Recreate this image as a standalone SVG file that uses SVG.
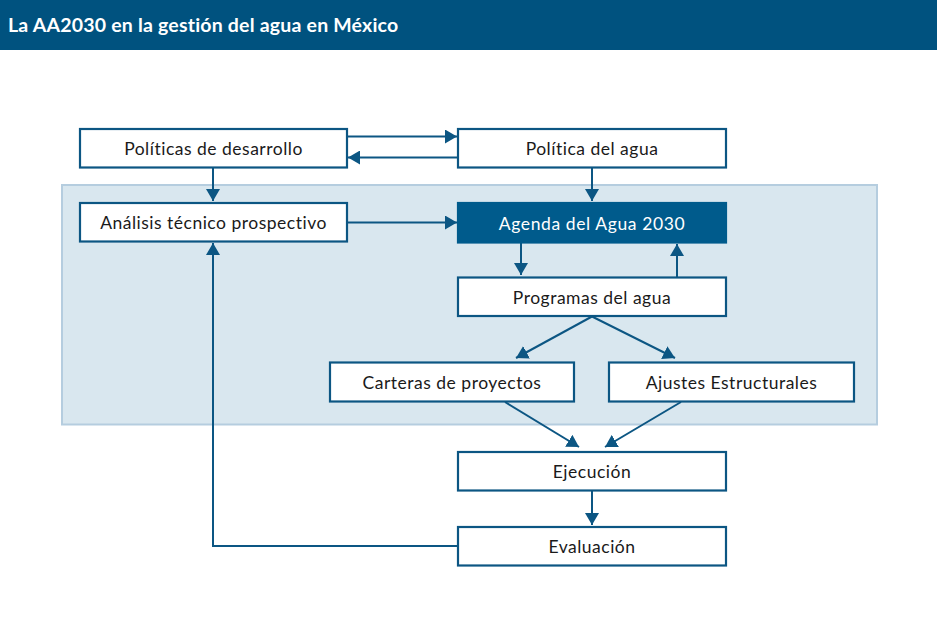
<svg xmlns="http://www.w3.org/2000/svg" width="937" height="632" viewBox="0 0 937 632">
<defs>
<style>
.box{fill:#ffffff;stroke:#0c5683;stroke-width:2.2}
.dark{fill:#005b8c;stroke:#005b8c;stroke-width:2.2}
.lbl{font-family:Lato,"Open Sans","Liberation Sans",sans-serif;font-size:17.5px;letter-spacing:0.5px;fill:#1a1a1a;text-anchor:middle}
.lblw{font-family:Lato,"Open Sans","Liberation Sans",sans-serif;font-size:17.5px;letter-spacing:0.6px;fill:#ffffff;text-anchor:middle}
.ln{fill:none;stroke:#0c5683;stroke-width:2}
</style>
<marker id="a" viewBox="0 0 12 14" refX="12" refY="7" markerWidth="12" markerHeight="14" markerUnits="userSpaceOnUse" orient="auto">
<path d="M0,0 L12,7 L0,14 Z" fill="#0c5683"/>
</marker>
</defs>
<g id="header">
<rect x="0" y="0" width="937" height="50" fill="#00527f"/>
<text x="8" y="32" font-family="Lato,'Open Sans','Liberation Sans',sans-serif" font-size="19.5" letter-spacing="0.2" font-weight="bold" fill="#ffffff">La AA2030 en la gestión del agua en México</text>
</g>
<g id="panel">
<rect x="62" y="185" width="815" height="239.5" fill="#d9e7ef" stroke="#b5cddf" stroke-width="2"/>
</g>
<g id="connectors">
<line class="ln" x1="347" y1="136.5" x2="457" y2="136.5" marker-end="url(#a)"/>
<line class="ln" x1="458" y1="157.5" x2="348" y2="157.5" marker-end="url(#a)"/>
<line class="ln" x1="213" y1="168" x2="213" y2="201" marker-end="url(#a)"/>
<line class="ln" x1="592" y1="168" x2="592" y2="201" marker-end="url(#a)"/>
<line class="ln" x1="347" y1="222.5" x2="457" y2="222.5" marker-end="url(#a)"/>
<line class="ln" x1="521" y1="243" x2="521" y2="275" marker-end="url(#a)"/>
<line class="ln" x1="677" y1="277" x2="677" y2="244" marker-end="url(#a)"/>
<line class="ln" x1="592" y1="316.5" x2="516" y2="358" marker-end="url(#a)"/>
<line class="ln" x1="592" y1="316.5" x2="675" y2="358" marker-end="url(#a)"/>
<line class="ln" x1="505" y1="402" x2="579" y2="447" marker-end="url(#a)"/>
<line class="ln" x1="681" y1="402" x2="605" y2="447" marker-end="url(#a)"/>
<line class="ln" x1="592" y1="491" x2="592" y2="525" marker-end="url(#a)"/>
<polyline class="ln" points="458,546 213,546 213,243" marker-end="url(#a)"/>
</g>
<g id="n-politicas-desarrollo">
<rect class="box" x="80" y="129" width="267" height="38.5"/>
<text class="lbl" x="213.5" y="155">Políticas de desarrollo</text>
</g>
<g id="n-politica-agua">
<rect class="box" x="458" y="129" width="268" height="38.5"/>
<text class="lbl" x="592" y="155">Política del agua</text>
</g>
<g id="n-analisis">
<rect class="box" x="80" y="203" width="267" height="38.5"/>
<text class="lbl" x="213.5" y="229">Análisis técnico prospectivo</text>
</g>
<g id="n-agenda">
<rect class="dark" x="458" y="203" width="268" height="39.5"/>
<text class="lblw" x="592" y="229.5">Agenda del Agua 2030</text>
</g>
<g id="n-programas">
<rect class="box" x="458" y="277.5" width="268" height="38.5"/>
<text class="lbl" x="592" y="303.5">Programas del agua</text>
</g>
<g id="n-carteras">
<rect class="box" x="330" y="362.5" width="244" height="39"/>
<text class="lbl" x="452" y="388.5">Carteras de proyectos</text>
</g>
<g id="n-ajustes">
<rect class="box" x="609" y="362.5" width="245" height="39"/>
<text class="lbl" x="731.5" y="388.5">Ajustes Estructurales</text>
</g>
<g id="n-ejecucion">
<rect class="box" x="458" y="452" width="268" height="38.5"/>
<text class="lbl" x="592" y="478">Ejecución</text>
</g>
<g id="n-evaluacion">
<rect class="box" x="458" y="527" width="268" height="38.5"/>
<text class="lbl" x="592" y="553">Evaluación</text>
</g>
</svg>
